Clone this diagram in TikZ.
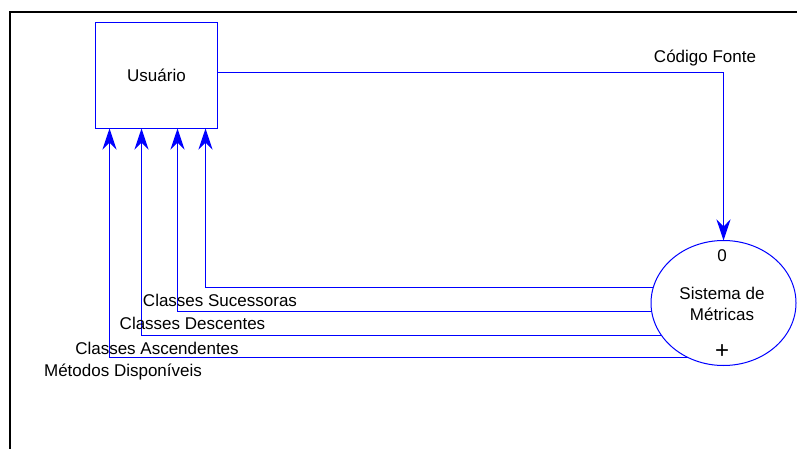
\documentclass[tikz,border=0pt]{standalone}
\usepackage{fontspec}
\setmainfont{Liberation Sans}
\usetikzlibrary{arrows.meta,shapes.geometric,intersections}
\definecolor{flowblue}{RGB}{0,0,255}
\begin{document}
\begin{tikzpicture}[x=1pt,y=-1pt,
  every node/.style={font=\fontsize{17}{21}\selectfont,text=black},
  entity/.style={draw=flowblue,line width=1pt,minimum width=122pt,minimum height=106pt,inner sep=0pt,outer sep=0pt},
  process/.style={draw=flowblue,line width=1pt,ellipse,minimum width=145pt,minimum height=125pt,inner sep=0pt,outer sep=0pt},
  flow/.style={draw=flowblue,line width=1pt,-{Stealth[length=21pt,width=14pt,inset=7pt]}},
  lbl/.style={anchor=base,inner sep=0pt,outer sep=0pt},
  frame/.style={draw=black,line width=2pt}
]
\useasboundingbox (0,0) rectangle (797,449);
\draw[frame] (797,12) -| (10,449);

\node[entity] (usr) at (156.5,75.5) {Usuário};
\node[process,name path=sisb] (sis) at (723.5,303) {};

\node[lbl] (zero) at (722,261) {0};
\node[align=center,inner sep=0pt] (sisname) at (722,303.5) {Sistema de\\Métricas};
\node[inner sep=0pt,font=\fontsize{24}{26}\selectfont] (plus) at (722,352) {+};

\coordinate (cfy) at (0,72.5);
\draw[flow] (usr.east |- cfy) -| (sis.north);
\node[lbl] (cf) at (705,62.5) {Código Fonte};

\path[name path=hA] (600,287.5) -- (723.5,287.5);
\path[name path=hB] (600,311.5) -- (723.5,311.5);
\path[name path=hC] (600,335.5) -- (723.5,335.5);
\path[name path=hD] (600,357.5) -- (723.5,357.5);
\path[name intersections={of=sisb and hA,by=pA}];
\path[name intersections={of=sisb and hB,by=pB}];
\path[name intersections={of=sisb and hC,by=pC}];
\path[name intersections={of=sisb and hD,by=pD}];

\draw[flow] (pA) -| ([xshift=110pt]usr.south west);
\draw[flow] (pB) -| ([xshift=82pt]usr.south west);
\draw[flow] (pC) -| ([xshift=46pt]usr.south west);
\draw[flow] (pD) -| ([xshift=14pt]usr.south west);

\node[lbl] (l1) at (220,306.5) {Classes Sucessoras};
\node[lbl] (l2) at (192.5,329.5) {Classes Descentes};
\node[lbl] (l3) at (157,354.5) {Classes Ascendentes};
\node[lbl] (l4) at (123,376.5) {Métodos Disponíveis};
\end{tikzpicture}
\end{document}
